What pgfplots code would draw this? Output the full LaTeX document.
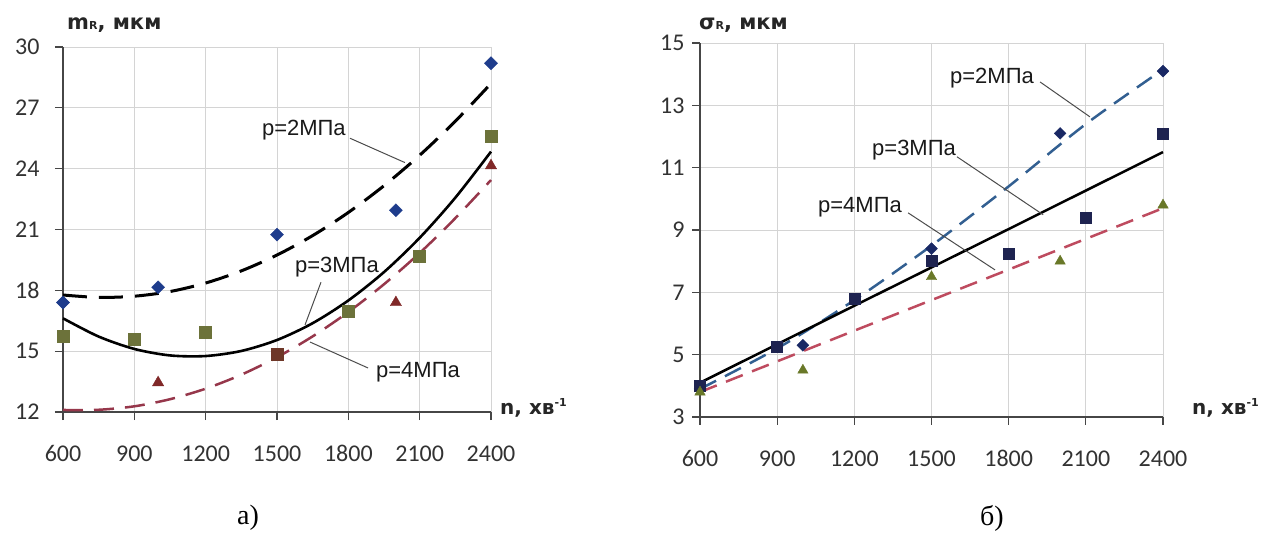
\documentclass[border=0pt]{standalone}
\usepackage{fontspec}
\setmainfont{Carlito}
\newfontfamily\djb{DejaVu Sans}[BoldFont={DejaVu Sans Bold}]
\newfontfamily\lsans{Liberation Sans}
\newfontfamily\capfont{Liberation Serif}
\usepackage{pgfplots}
\pgfplotsset{compat=1.18}
\definecolor{axgray}{RGB}{70,70,70}
\definecolor{gridgray}{RGB}{212,212,212}
\definecolor{tickgray}{RGB}{50,50,50}
\definecolor{navyL}{RGB}{30,60,140}
\definecolor{oliveL}{RGB}{108,114,58}
\definecolor{redL}{RGB}{128,40,40}
\definecolor{brownL}{RGB}{110,55,40}
\definecolor{dashredL}{RGB}{150,55,75}
\definecolor{navyR}{RGB}{25,40,100}
\definecolor{navySq}{RGB}{30,35,80}
\definecolor{oliveR}{RGB}{105,120,40}
\definecolor{blueR}{RGB}{50,95,145}
\definecolor{redR}{RGB}{190,75,95}
\tikzset{
  lbl/.style={font=\lsans\fontsize{22}{22}\selectfont, text=black!90, inner sep=0pt},
  leader/.style={line width=1pt, color=black!70},
}
\pgfplotsset{
  base/.style={
    scale only axis, anchor=south west,
    axis x line=bottom, axis y line=left,
    axis line style={line width=1.8pt, color=axgray, -},
    xmin=600, xmax=2400, xtick={600,900,...,2400},
    grid=major, major grid style={line width=0.8pt, color=gridgray},
    tick style={line width=1.2pt, color=axgray}, major tick length=8pt,
    tick align=outside,
    ticklabel style={font=\fontsize{24}{24}\selectfont, color=tickgray},
    /pgf/number format/assume math mode=true,
    /pgf/number format/1000 sep={},
    xticklabel style={yshift=-22pt},
    clip=false,
  },
  dmark/.style={only marks, mark=square*, mark options={rotate=45}},
}
\begin{document}
\begin{tikzpicture}
\useasboundingbox (0,0) rectangle (1263pt,554pt);
% ---------------- (a) ----------------
\begin{axis}[base, at={(63pt,142pt)}, width=428pt, height=365pt,
  ymin=12, ymax=30, ytick={12,15,...,30}, yticklabel style={xshift=-12pt}]
% trend curves
\addplot[black, line width=3pt, dash pattern=on 24pt off 12pt, smooth] coordinates {
 (600,17.77) (750,17.65) (900,17.71) (1050,17.94) (1200,18.36) (1350,18.96) (1500,19.74)
 (1650,20.70) (1800,21.84) (1950,23.16) (2100,24.66) (2250,26.34) (2400,28.2)};
\addplot[black, line width=2.6pt, smooth] coordinates {
 (600,16.62) (750,15.72) (900,15.11) (1050,14.79) (1200,14.76) (1350,15.01) (1500,15.55)
 (1650,16.38) (1800,17.50) (1950,18.90) (2100,20.59) (2250,22.57) (2400,24.84)};
\addplot[dashredL, line width=2.5pt, dash pattern=on 20pt off 11pt, smooth] coordinates {
 (600,12.10) (750,12.11) (900,12.28) (1050,12.63) (1200,13.15) (1350,13.84) (1500,14.70)
 (1650,15.73) (1800,16.93) (1950,18.30) (2100,19.84) (2250,21.56) (2400,23.44)};
% markers
\addplot[dmark, mark size=4.6pt, color=navyL] coordinates {
 (600,17.4) (1000,18.15) (1500,20.75) (2000,21.95) (2400,29.2)};
\addplot[only marks, mark=square*, mark size=6pt, color=oliveL] coordinates {
 (600,15.75) (900,15.6) (1200,15.95) (1800,16.98) (2100,19.68) (2400,25.6)};
\addplot[only marks, mark=triangle*, mark size=6.5pt, color=redL] coordinates {
 (1000,13.45) (2000,17.4) (2400,24.15)};
\addplot[only marks, mark=square*, mark size=6pt, color=brownL] coordinates {
 (1500,14.85)};
% labels
\node[lbl] at (axis cs:1613,25.9) {p=2МПа};
\draw[leader] (axis cs:1807,25.5) -- (axis cs:2038,24.3);
\node[lbl] at (axis cs:1752,19.15) {p=3МПа};
\draw[leader] (axis cs:1685,18.4) -- (axis cs:1618,16.3);
\node[lbl] at (axis cs:2093,13.97) {p=4МПа};
\draw[leader] (axis cs:1883,14.17) -- (axis cs:1639,15.45);
\end{axis}
% ---------------- (b) ----------------
\begin{axis}[base, at={(700pt,137pt)}, width=463pt, height=374pt,
  ymin=3, ymax=15, ytick={3,5,...,15}, yticklabel style={xshift=-4pt}]
\addplot[blueR, line width=2.5pt, dash pattern=on 18pt off 10pt, smooth] coordinates {
 (600,3.9) (900,5.2) (1200,6.75) (1500,8.5) (1800,10.4) (2100,12.4) (2400,14.15)};
\addplot[black, line width=2.5pt] coordinates {
 (600,4.1) (1200,6.57) (1800,9.03) (2400,11.5)};
\addplot[redR, line width=2.5pt, dash pattern=on 18pt off 10pt] coordinates {
 (600,3.8) (1200,5.77) (1800,7.73) (2400,9.7)};
\addplot[dmark, mark size=4.2pt, color=navyR] coordinates {
 (600,3.9) (1000,5.3) (1500,8.4) (2000,12.1) (2400,14.1)};
\addplot[only marks, mark=square*, mark size=5.5pt, color=navySq] coordinates {
 (600,4.0) (900,5.25) (1200,6.78) (1500,8.0) (1800,8.25) (2100,9.4) (2400,12.1)};
\addplot[only marks, mark=triangle*, mark size=6pt, color=oliveR] coordinates {
 (600,3.8) (1000,4.5) (1500,7.5) (2000,8.0) (2400,9.8)};
\node[lbl] at (axis cs:1735,13.88) {p=2МПа};
\draw[leader] (axis cs:1922,13.75) -- (axis cs:2116,12.63);
\node[lbl] at (axis cs:1432,11.57) {p=3МПа};
\draw[leader] (axis cs:1599,11.35) -- (axis cs:1934,9.49);
\node[lbl] at (axis cs:1222,9.74) {p=4МПа};
\draw[leader] (axis cs:1409,9.55) -- (axis cs:1747,7.72);
\end{axis}
% axis titles
\node[anchor=base west, inner sep=0pt, font=\djb\bfseries\fontsize{21}{21}\selectfont, text=black!85]
  at (67pt,524pt) {m{\fontsize{11}{11}\selectfont R}, мкм};
\node[anchor=base west, inner sep=0pt, font=\djb\bfseries\fontsize{21}{21}\selectfont, text=black!85]
  at (699pt,524pt) {σ{\fontsize{11}{11}\selectfont R}, мкм};
\node[anchor=base west, inner sep=0pt, font=\djb\bfseries\fontsize{20}{20}\selectfont, text=black!85]
  at (500pt,139pt) {n, хв\raisebox{8pt}{\fontsize{11}{11}\selectfont -1}};
\node[anchor=base west, inner sep=0pt, font=\djb\bfseries\fontsize{20}{20}\selectfont, text=black!85]
  at (1192pt,139pt) {n, хв\raisebox{8pt}{\fontsize{11}{11}\selectfont -1}};
% captions
\node[font=\capfont\fontsize{28}{28}\selectfont] at (248pt,36pt) {а)};
\node[font=\capfont\fontsize{28}{28}\selectfont] at (992pt,36pt) {б)};
\end{tikzpicture}
\end{document}
